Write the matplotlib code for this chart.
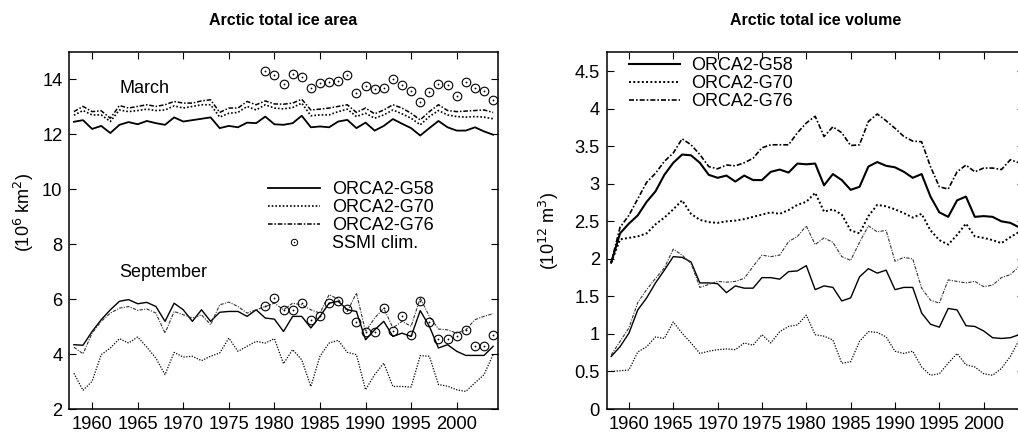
import numpy as np
import matplotlib
matplotlib.use("Agg")
from matplotlib import pyplot as plt
from matplotlib.lines import Line2D
from matplotlib.legend_handler import HandlerTuple

plt.rcParams['font.family'] = ['Liberation Sans', 'DejaVu Sans']

years = np.arange(1958, 2005)
ssmi_years = np.arange(1979, 2005)

# total ice area, 10^6 km^2
march_g58 = [12.45, 12.51, 12.19, 12.30, 12.04, 12.34, 12.44, 12.36, 12.48, 12.40,
             12.34, 12.61, 12.46, 12.51, 12.56, 12.61, 12.22, 12.30, 12.25, 12.42,
             12.40, 12.64, 12.36, 12.34, 12.40, 12.67, 12.25, 12.28, 12.25, 12.46,
             12.52, 12.22, 12.42, 12.13, 12.30, 12.55, 12.38, 12.22, 11.95, 12.22,
             12.48, 12.25, 12.13, 12.13, 12.25, 12.10, 11.98]
march_g70 = [12.69, 12.86, 12.70, 12.70, 12.46, 12.88, 12.82, 12.86, 12.91, 12.86,
             12.88, 13.03, 12.95, 13.01, 13.07, 13.07, 12.62, 12.76, 12.79, 13.01,
             12.88, 13.07, 12.95, 12.92, 12.97, 13.13, 12.67, 12.70, 12.70, 12.82,
             12.91, 12.64, 12.76, 12.58, 12.70, 12.88, 12.74, 12.58, 12.34, 12.64,
             12.86, 12.70, 12.64, 12.62, 12.64, 12.62, 12.56]
march_g76 = [12.82, 13.01, 12.82, 12.85, 12.58, 13.04, 12.95, 13.01, 13.07, 13.01,
             13.07, 13.19, 13.13, 13.13, 13.21, 13.25, 12.79, 12.95, 12.95, 13.19,
             13.07, 13.21, 13.10, 13.09, 13.13, 13.27, 12.88, 12.91, 12.95, 13.01,
             13.07, 12.79, 12.95, 12.74, 12.88, 13.07, 12.95, 12.76, 12.52, 12.82,
             13.07, 12.86, 12.82, 12.84, 12.86, 12.88, 12.79]
ssmi_march = [14.31, 14.16, 13.83, 14.19, 14.07, 13.67, 13.85, 13.88, 13.92, 14.16,
              13.49, 13.76, 13.64, 13.67, 14.00, 13.79, 13.58, 13.16, 13.55, 13.82,
              13.79, 13.39, 13.88, 13.67, 13.58, 13.25]

sept_g58 = [4.34, 4.32, 4.82, 5.25, 5.61, 5.92, 5.98, 5.83, 5.88, 5.73,
            5.19, 5.85, 5.61, 5.19, 5.61, 5.19, 5.52, 5.55, 5.55, 5.37,
            5.61, 5.31, 5.27, 4.82, 5.37, 5.37, 4.95, 5.37, 5.85, 5.92,
            5.61, 5.55, 4.52, 4.88, 5.19, 4.64, 4.76, 4.64, 5.58, 5.01,
            4.22, 4.34, 4.10, 3.95, 3.95, 3.95, 4.28]
sept_g70 = [3.30, 2.68, 3.01, 3.98, 4.22, 4.56, 4.40, 4.62, 4.25, 3.85,
            3.25, 4.06, 3.89, 3.92, 3.76, 3.92, 4.04, 4.58, 4.10, 4.28,
            4.46, 4.40, 4.56, 3.65, 4.16, 3.79, 2.82, 3.92, 4.40, 4.50,
            4.06, 3.98, 2.70, 3.25, 3.67, 2.82, 2.82, 2.80, 3.94, 3.92,
            2.89, 2.83, 2.70, 2.64, 2.95, 3.25, 3.98]
sept_g76 = [4.25, 4.01, 4.76, 5.19, 5.49, 5.67, 5.73, 5.59, 5.64, 5.49,
            4.76, 5.55, 5.43, 5.31, 5.43, 5.07, 5.79, 5.89, 5.73, 5.49,
            5.61, 5.73, 5.85, 5.61, 5.85, 5.79, 5.61, 5.49, 6.16, 6.00,
            5.55, 6.22, 4.82, 5.31, 5.67, 4.95, 5.19, 5.01, 6.04, 5.37,
            4.91, 4.88, 4.76, 4.88, 5.25, 5.37, 5.47]
ssmi_sept = [5.73, 6.04, 5.59, 5.59, 5.85, 5.25, 5.37, 5.85, 5.92, 5.64,
             5.15, 4.82, 4.82, 5.67, 4.85, 5.39, 4.70, 5.92, 5.16, 4.55,
             4.55, 4.64, 4.86, 4.30, 4.30, 4.68]

# total ice volume, 10^12 m^3 (winter maximum and summer minimum)
vmax_g58 = [1.95, 2.34, 2.47, 2.58, 2.76, 2.90, 3.12, 3.28, 3.39, 3.38,
            3.28, 3.12, 3.08, 3.11, 3.03, 3.11, 3.05, 3.05, 3.16, 3.19,
            3.15, 3.27, 3.26, 3.27, 2.98, 3.13, 3.05, 2.92, 2.96, 3.23,
            3.29, 3.24, 3.22, 3.16, 3.08, 3.13, 2.83, 2.62, 2.56, 2.78,
            2.83, 2.56, 2.57, 2.56, 2.50, 2.48, 2.42]
vmax_g70 = [1.95, 2.26, 2.28, 2.30, 2.34, 2.46, 2.55, 2.66, 2.78, 2.60,
            2.52, 2.49, 2.48, 2.50, 2.51, 2.53, 2.56, 2.59, 2.62, 2.60,
            2.65, 2.72, 2.76, 2.88, 2.63, 2.66, 2.59, 2.38, 2.34, 2.57,
            2.72, 2.70, 2.66, 2.61, 2.55, 2.60, 2.38, 2.25, 2.19, 2.32,
            2.47, 2.30, 2.28, 2.25, 2.21, 2.29, 2.36]
vmax_g76 = [1.95, 2.42, 2.58, 2.80, 3.02, 3.14, 3.30, 3.41, 3.60, 3.52,
            3.39, 3.23, 3.20, 3.25, 3.24, 3.28, 3.34, 3.48, 3.52, 3.52,
            3.52, 3.68, 3.81, 3.90, 3.63, 3.76, 3.68, 3.51, 3.52, 3.83,
            3.93, 3.84, 3.74, 3.63, 3.57, 3.56, 3.23, 2.96, 2.93, 3.16,
            3.25, 3.16, 3.21, 3.21, 3.19, 3.32, 3.28]
vmin_g58 = [0.70, 0.83, 1.01, 1.32, 1.48, 1.68, 1.85, 2.03, 2.02, 1.96,
            1.68, 1.68, 1.67, 1.55, 1.64, 1.61, 1.61, 1.75, 1.75, 1.73,
            1.83, 1.84, 1.91, 1.59, 1.64, 1.62, 1.44, 1.48, 1.76, 1.87,
            1.81, 1.85, 1.59, 1.62, 1.62, 1.28, 1.13, 1.09, 1.34, 1.32,
            1.11, 1.10, 1.04, 0.95, 0.94, 0.95, 0.99]
vmin_g70 = [0.50, 0.51, 0.52, 0.76, 0.83, 0.96, 0.94, 1.16, 1.01, 0.88,
            0.74, 0.77, 0.79, 0.80, 0.79, 0.88, 0.85, 0.99, 0.88, 1.03,
            1.10, 1.12, 1.25, 0.99, 0.97, 0.92, 0.61, 0.63, 0.90, 1.03,
            1.02, 0.96, 0.77, 0.74, 0.77, 0.56, 0.45, 0.47, 0.61, 0.74,
            0.59, 0.56, 0.47, 0.45, 0.54, 0.70, 0.92]
vmin_g76 = [0.72, 0.90, 1.08, 1.42, 1.59, 1.74, 1.88, 2.13, 2.05, 1.94,
            1.62, 1.66, 1.70, 1.69, 1.70, 1.74, 1.90, 2.05, 2.03, 2.05,
            2.23, 2.30, 2.44, 2.19, 2.28, 2.22, 2.03, 1.98, 2.22, 2.44,
            2.36, 2.38, 1.97, 2.02, 2.00, 1.61, 1.45, 1.41, 1.72, 1.70,
            1.68, 1.70, 1.63, 1.65, 1.75, 1.79, 1.90]

labels = ['ORCA2-G58', 'ORCA2-G70', 'ORCA2-G76']
DOT = (0, (1, 1.2))
DASHDOT = (0, (3, 1.2, 1, 1.2))

fig = plt.figure(figsize=(10.18, 4.36), dpi=100)
ax1 = fig.add_axes([0.0681, 0.0619, 0.4208, 0.8195])
ax2 = fig.add_axes([0.596, 0.0619, 0.4095, 0.8195])


def style_axis(ax):
    ax.set_xlim(1957.5, 2004.5)
    ax.set_xticks(range(1960, 2001, 5))
    ax.tick_params(direction='in', top=True, right=True, length=5, width=0.8,
                   labelsize=13.2, pad=5)
    for s in ax.spines.values():
        s.set_linewidth(1.1)


def ssmi(ax, x, y, ms=6.2):
    ax.plot(x, y, 'o', mfc='none', mec='k', ms=ms, mew=0.8, clip_on=False)
    ax.plot(x, y, 'o', color='k', ms=1.3, mew=0)


# ---- ice area ----
ax1.plot(years, march_g58, '-', color='k', lw=1.3)
ax1.plot(years, march_g70, linestyle=DOT, color='k', lw=1.2)
ax1.plot(years, march_g76, linestyle=DASHDOT, color='k', lw=1.1)
ax1.plot(years, sept_g58, '-', color='k', lw=1.0)
ax1.plot(years, sept_g70, linestyle=DOT, color='k', lw=0.9)
ax1.plot(years, sept_g76, linestyle=DASHDOT, color='0.2', lw=0.8)
ssmi(ax1, ssmi_years, ssmi_march)
ssmi(ax1, ssmi_years, ssmi_sept)

style_axis(ax1)
ax1.set_ylim(2, 15)
ax1.set_yticks(range(2, 15, 2))
ax1.set_title('Arctic total ice area', fontsize=11.5, fontweight='bold', pad=19)
ax1.set_ylabel('(10$^6$ km$^2$)', fontsize=13)
ax1.yaxis.set_label_coords(-0.078, 0.55)
ax1.text(1963, 13.5, 'March', fontsize=13, va='baseline')
ax1.text(1963, 6.8, 'September', fontsize=13, va='baseline')

h = [Line2D([], [], color='k', lw=1.3),
     Line2D([], [], color='k', lw=1.2, linestyle=DOT),
     Line2D([], [], color='k', lw=1.1, linestyle=DASHDOT),
     (Line2D([], [], marker='o', ls='none', mfc='none', mec='k', ms=4.6, mew=0.7),
      Line2D([], [], marker='o', ls='none', color='k', ms=1.1, mew=0))]
ax1.legend(h, labels + ['SSMI clim.'], loc='upper left', bbox_to_anchor=(0.464, 0.637),
           frameon=False, fontsize=13, handlelength=2.9, handletextpad=0.65,
           labelspacing=0.05, borderpad=0, borderaxespad=0,
           handler_map={tuple: HandlerTuple(ndivide=1)})

# ---- ice volume ----
ax2.plot(years, vmax_g58, '-', color='k', lw=1.5)
ax2.plot(years, vmax_g70, linestyle=DOT, color='k', lw=1.4)
ax2.plot(years, vmax_g76, linestyle=DASHDOT, color='k', lw=1.2)
ax2.plot(years, vmin_g58, '-', color='k', lw=1.0)
ax2.plot(years, vmin_g70, linestyle=DOT, color='k', lw=0.9)
ax2.plot(years, vmin_g76, linestyle=DASHDOT, color='0.2', lw=0.8)

style_axis(ax2)
ax2.set_ylim(0, 4.76)
ax2.set_yticks(np.arange(0, 4.6, 0.5))
ax2.set_yticklabels(['%g' % v for v in np.arange(0, 4.6, 0.5)])
ax2.set_title('Arctic total ice volume', fontsize=11.5, fontweight='bold', pad=19)
ax2.set_ylabel('(10$^{12}$ m$^3$)', fontsize=13)
ax2.yaxis.set_label_coords(-0.11, 0.5)

h2 = [Line2D([], [], color='k', lw=1.5),
      Line2D([], [], color='k', lw=1.4, linestyle=DOT),
      Line2D([], [], color='k', lw=1.2, linestyle=DASHDOT)]
ax2.legend(h2, labels, loc='upper left', bbox_to_anchor=(0.0535, 0.985),
           frameon=False, fontsize=13, handlelength=2.8, handletextpad=0.65,
           labelspacing=0.05, borderpad=0, borderaxespad=0)

fig.savefig('out.png', dpi=100)
